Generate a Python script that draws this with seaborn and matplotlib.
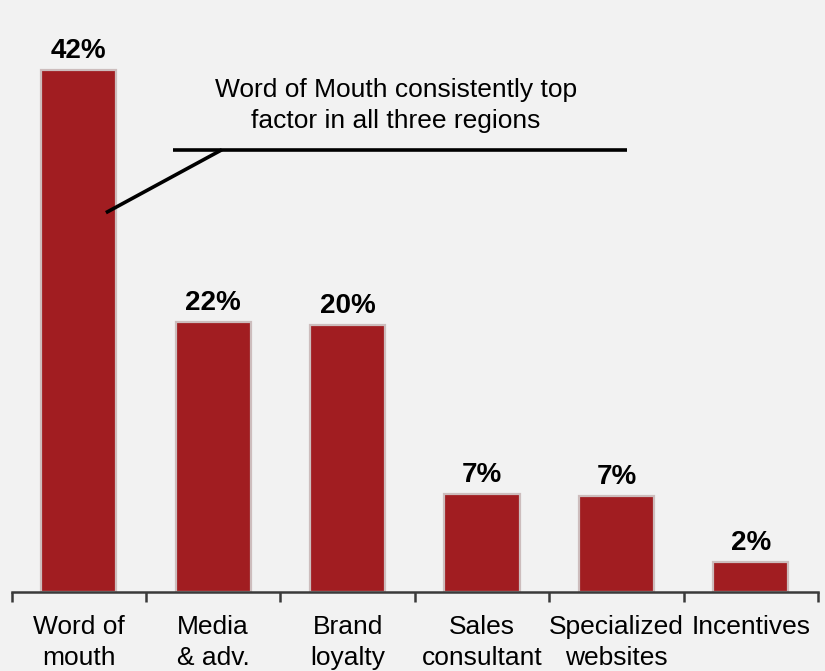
import matplotlib
matplotlib.use("Agg")
import matplotlib.pyplot as plt
import seaborn as sns
import numpy as np
import pandas as pd

categories = ["Word of\nmouth", "Media\n& adv.", "Brand\nloyalty", "Sales\nconsultant", "Specialized\nwebsites", "Incentives"]
values = [42.0, 21.7, 21.5, 7.9, 7.7, 2.4]
labels = ["42%", "22%", "20%", "7%", "7%", "2%"]
callout_text = "Word of Mouth consistently top\nfactor in all three regions"

BG = "#F2F2F2"
BAR = "#A11D21"
EDGE = "#CDBDBD"
AXC = "#3A3A3A"

sns.set_style("white")
plt.rcParams["font.family"] = ["Liberation Sans", "DejaVu Sans"]

fig = plt.figure(figsize=(8.25, 6.71), dpi=100)
fig.patch.set_facecolor(BG)
ax = fig.add_axes([0.014, 0.1177, 0.9776, 0.8823])
ax.set_facecolor(BG)

df = pd.DataFrame({"cat": categories, "val": values})
sns.barplot(data=df, x="cat", y="val", color=BAR, saturation=1, width=0.56,
            edgecolor=EDGE, linewidth=1.6, ax=ax)

ax.set_xlim(-0.5, 5.5)
ax.set_ylim(0, 47.6)
ax.set_xlabel("")
ax.set_ylabel("")
ax.set_yticks([])
for s in ["left", "top", "right"]:
    ax.spines[s].set_visible(False)
ax.spines["bottom"].set_color(AXC)
ax.spines["bottom"].set_linewidth(1.8)

ax.set_xticks(range(len(categories)))
ax.set_xticklabels(categories, fontsize=19, color="black", linespacing=1.38)
ax.set_xticks(np.arange(-0.5, len(categories), 1), minor=True)
ax.tick_params(axis="x", which="both", bottom=True)
ax.tick_params(axis="x", which="major", length=0, pad=16.5)
ax.tick_params(axis="x", which="minor", length=7.5, width=1.8, color=AXC, direction="out")

for i, (v, lab) in enumerate(zip(values, labels)):
    ax.annotate(lab, (i, v), xytext=(0, 8.6), textcoords="offset points",
                ha="center", va="baseline", fontsize=20, fontweight="bold", color="black")

# callout
ax.plot([0.70, 4.08], [35.56, 35.56], color="black", lw=2.6, solid_capstyle="butt")
ax.plot([1.065, 0.202], [35.56, 30.5], color="black", lw=2.6, solid_capstyle="butt")
ax.text(2.36, 39.12, callout_text, ha="center", va="center", fontsize=19, color="black",
        linespacing=1.38)

fig.savefig("out.png", dpi=100, facecolor=BG)
